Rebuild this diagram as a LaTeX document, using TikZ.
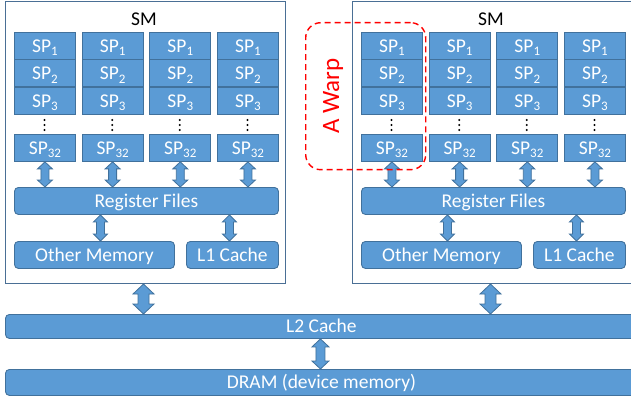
\documentclass[tikz,border=0pt]{standalone}
\usepackage{fontspec}
\setmainfont{Carlito}
\usetikzlibrary{calc}

\definecolor{boxfill}{HTML}{5B9BD5}
\definecolor{boxline}{HTML}{41719C}
\definecolor{frameline}{HTML}{4A6F95}

% processor label with subscript index
\newcommand\spname[1]{SP\raisebox{-3.5pt}{\fontsize{13}{13}\selectfont #1}}

% vertical two-headed block arrow: x and top y from #1, bottom y from #2,
% #3 half shaft width, #4 half head width, #5 head length
\newcommand\blockarrow[5]{%
  \filldraw[arrowbody] let \p1=(#1), \p2=(#2) in
    (\x1,\y1) -- (\x1+#4,\y1-#5) -- (\x1+#3,\y1-#5) -- (\x1+#3,\y2+#5)
    -- (\x1+#4,\y2+#5) -- (\x1,\y2) -- (\x1-#4,\y2+#5) -- (\x1-#3,\y2+#5)
    -- (\x1-#3,\y1-#5) -- (\x1-#4,\y1-#5) -- cycle;}

\tikzset{
  unit/.style={draw=boxline, fill=boxfill, line width=0.9pt, text=white,
    inner sep=0pt, text height=12.5pt, text depth=0pt, anchor=north west,
    font=\fontsize{19.5}{22}\selectfont},
  spbox/.style={unit, minimum width=61pt, minimum height=27pt},
  membox/.style={unit, rounded corners=4pt, minimum height=27pt},
  smframe/.style={draw=frameline, line width=1pt, fill=white, inner sep=0pt,
    anchor=north west, minimum width=280pt, minimum height=282pt},
  arrowbody/.style={draw=boxline, fill=boxfill, line width=0.8pt},
}

\begin{document}
\begin{tikzpicture}[x=1pt, y=-1pt]
\useasboundingbox (0,0) rectangle (631,398);
\clip (0,0) rectangle (631,398);

% global memories
\node[membox, minimum width=632pt, minimum height=24pt] (l2) at (5,314) {L2 Cache};
\node[membox, minimum width=632pt, minimum height=26pt] (dram) at (5,369) {DRAM (device memory)};

% two streaming multiprocessors
\foreach \s/\ox in {0/0, 1/347} {
  \node[smframe] (sm-\s) at (5+\ox,1) {};
  \node[text height=12.5pt, text depth=0pt, inner sep=0pt,
        font=\fontsize{19.5}{22}\selectfont] (smlabel-\s) at (144+\ox,19) {SM};
  \foreach \c in {0,...,3} {
    \foreach \r/\ty/\lab in {1/32/1, 2/59.5/2, 3/87/3, 4/134/32} {
      \node[spbox] (sp-\s-\c-\r) at (14+67.67*\c+\ox,\ty) {\spname{\lab}};
    }
    \foreach \dy in {120,125,130} {
      \fill (44.5+67.67*\c+\ox,\dy) circle (1.1pt);
    }
  }
  \node[membox, minimum width=264pt] (rf-\s) at (14+\ox,187) {Register Files};
  \node[membox, minimum width=160pt] (om-\s) at (14+\ox,241) {Other Memory};
  \node[membox, minimum width=92pt]  (l1-\s) at (186+\ox,241) {L1 Cache};

  \foreach \c in {0,...,3} {
    \blockarrow{sp-\s-\c-4.south}{rf-\s.north}{4pt}{7.5pt}{7pt}
  }
  \blockarrow{$(om-\s.north |- rf-\s.south)+(6,0)$}{om-\s.north}{4pt}{7pt}{7pt}
  \blockarrow{$(l1-\s.north |- rf-\s.south)+(-3,0)$}{l1-\s.north}{4pt}{7pt}{7pt}
  \blockarrow{$(sm-\s.south)+(-2,0)$}{l2.north}{5.5pt}{10.5pt}{10pt}
}

\blockarrow{$(l2.south)+(-1,0)$}{dram.north}{4.5pt}{8.5pt}{8pt}

% one warp: the first column of processors
\node[draw=red, dash pattern=on 6pt off 4pt, line width=1.4pt,
      rounded corners=15pt, minimum width=120pt, minimum height=147pt,
      inner sep=0pt, anchor=north west] (warp) at (305,22) {};
\node[rotate=90, text=red, inner sep=0pt, text height=16pt, text depth=0pt,
      font=\fontsize{25}{28}\selectfont] (warplabel) at (331,96) {A Warp};
\end{tikzpicture}
\end{document}
